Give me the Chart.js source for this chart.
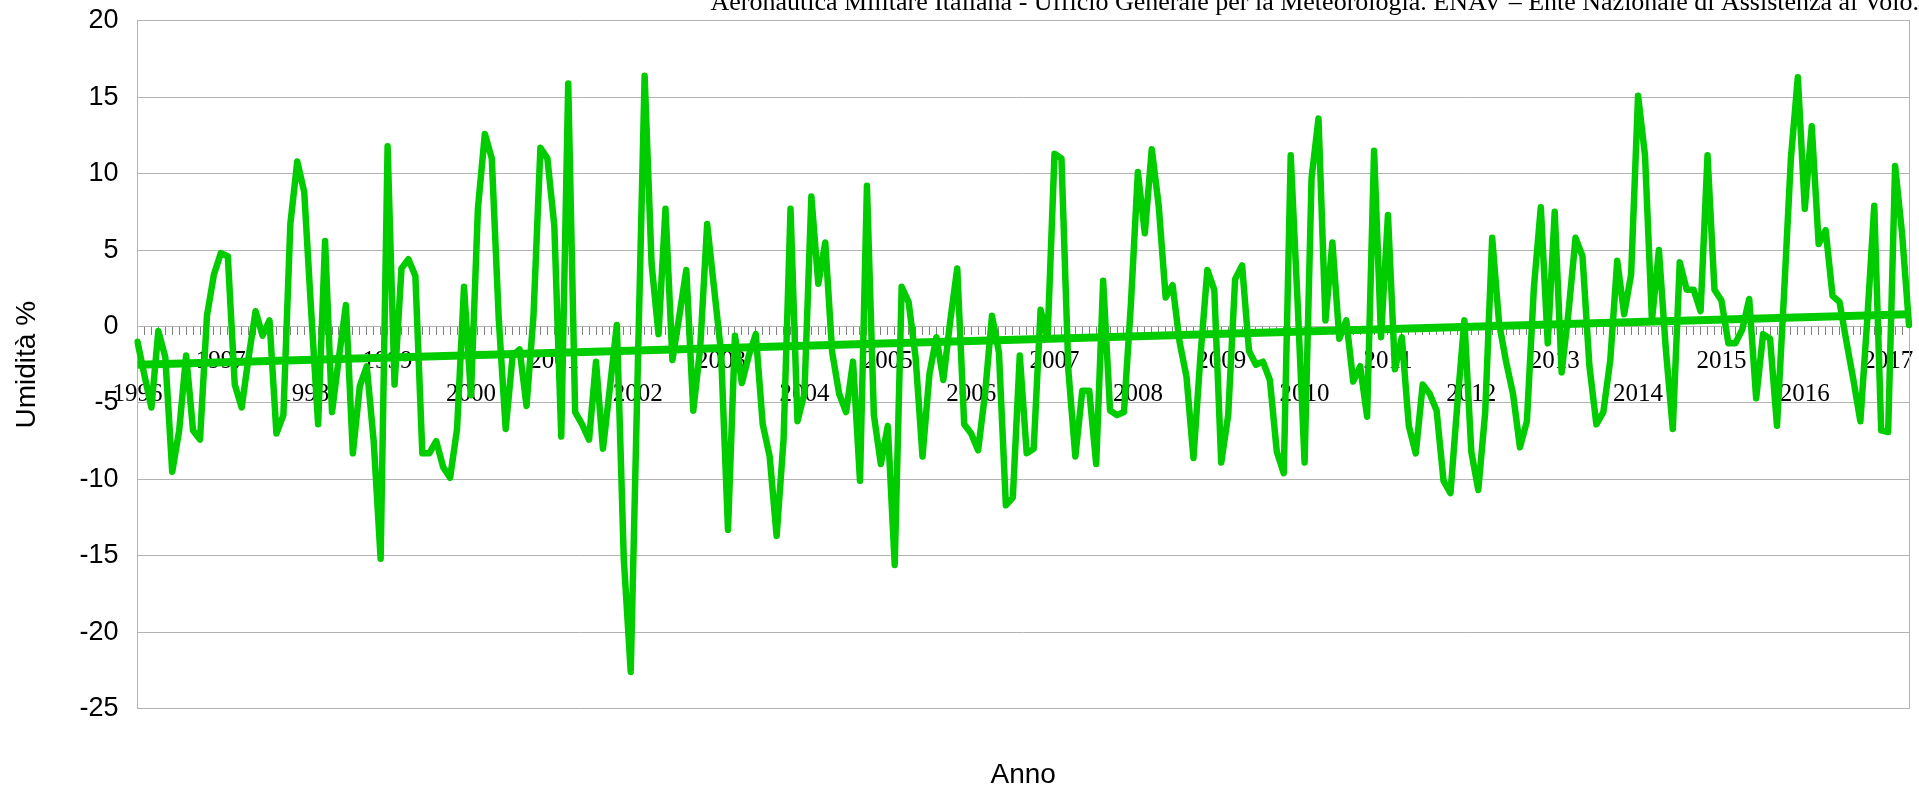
<!DOCTYPE html>
<html>
<head>
<meta charset="utf-8">
<title>Umidità %</title>
<script src="https://cdn.jsdelivr.net/npm/chart.js@4"></script>
<style>
  html, body { margin: 0; padding: 0; background: #fff; }
  canvas { display: block; }
</style>
</head>
<body>
<canvas id="myChart" width="1919" height="787"></canvas>
<script>
// tick labels (one per January)
var yearLabels = ["1996", "1997", "1998", "1999", "2000", "2001", "2002", "2003", "2004", "2005", "2006",
  "2007", "2008", "2009", "2010", "2011", "2012", "2013", "2014", "2015", "2016", "2017"];

// monthly anomaly, Jan 1996 .. Apr 2017
var humidity = [
  -1.0, -3.2, -5.3, -0.3, -2.0, -9.5, -6.8, -1.9, -6.8, -7.4, 0.7, 3.4,      // 1996
  4.8, 4.6, -3.8, -5.3, -2.0, 1.0, -0.6, 0.4, -7.0, -5.8, 6.7, 10.8,         // 1997
  8.8, 1.0, -6.4, 5.6, -5.6, -2.0, 1.4, -8.3, -3.9, -2.6, -7.5, -15.2,       // 1998
  11.8, -3.8, 3.8, 4.4, 3.3, -8.3, -8.3, -7.5, -9.2, -9.9, -6.7, 2.6,        // 1999
  -4.5, 7.7, 12.6, 11.0, 0.5, -6.7, -1.9, -1.5, -5.2, 0.7, 11.7, 11.0,       // 2000
  6.6, -7.2, 15.9, -5.6, -6.4, -7.4, -2.3, -8.0, -4.0, 0.1, -15.2, -22.6,    // 2001
  -3.0, 16.4, 4.1, -0.5, 7.7, -2.2, 0.7, 3.7, -5.5, -1.4, 6.7, 2.5,          // 2002
  -1.7, -13.3, -0.6, -3.7, -1.9, -0.5, -6.4, -8.5, -13.7, -7.4, 7.7, -6.2,   // 2003
  -4.4, 8.5, 2.8, 5.5, -1.7, -4.4, -5.6, -2.3, -10.1, 9.2, -5.8, -9.0,       // 2004
  -6.5, -15.6, 2.6, 1.6, -2.0, -8.5, -3.1, -0.7, -3.5, 0.4, 3.8, -6.4,       // 2005
  -7.0, -8.1, -4.4, 0.7, -1.7, -11.7, -11.2, -1.9, -8.3, -8.0, 1.1, -0.8,    // 2006
  11.3, 11.0, -2.9, -8.5, -4.2, -4.2, -9.0, 3.0, -5.5, -5.8, -5.6, 1.5,      // 2007
  10.1, 6.1, 11.6, 7.9, 1.9, 2.7, -1.0, -3.3, -8.6, -2.0, 3.7, 2.4,          // 2008
  -8.9, -5.8, 3.1, 4.0, -1.6, -2.5, -2.3, -3.5, -8.2, -9.6, 11.2, 1.5,       // 2009
  -8.9, 9.7, 13.6, 0.4, 5.5, -0.8, 0.4, -3.6, -2.6, -5.9, 11.5, -0.7,        // 2010
  7.3, -2.8, -0.7, -6.5, -8.3, -3.8, -4.4, -5.5, -10.1, -10.9, -5.0, 0.4,    // 2011
  -8.2, -10.7, -5.6, 5.8, 0.2, -2.3, -4.4, -7.9, -6.2, 2.5, 7.8, -1.1,       // 2012
  7.5, -3.0, 1.0, 5.8, 4.6, -2.6, -6.4, -5.6, -2.2, 4.3, 0.8, 3.4,           // 2013
  15.1, 11.2, 0.4, 5.0, -1.5, -6.7, 4.2, 2.4, 2.4, 1.0, 11.2, 2.4,           // 2014
  1.7, -1.1, -1.1, -0.2, 1.8, -4.7, -0.5, -0.8, -6.5, 2.0, 11.0, 16.3,       // 2015
  7.7, 13.1, 5.4, 6.3, 2.0, 1.6, -1.0, -3.5, -6.2, 0.5, 7.9, -6.8,           // 2016
  -6.9, 10.5, 6.1, 0.1                                                        // 2017
];

// linear trend, value at first and last month
var trendValues = [-2.5, 0.8];

var sourceText = "Aeronautica Militare Italiana - Ufficio Generale per la Meteorologia. ENAV – Ente Nazionale di Assistenza al Volo.";

var months = [];
for (var k = 0; k < yearLabels.length; k++) {
  for (var m = 1; m <= 12; m++) {
    if (months.length < humidity.length) months.push(yearLabels[k] + "-" + (m < 10 ? "0" + m : m));
  }
}

var green = "#00cc00";
var gridGray = "#b3b3b3";

// source line at the top right, partly cut by the top edge like in the original
var sourceTitle = {
  id: "sourceTitle",
  afterDraw: function (chart) {
    var c = chart.ctx;
    c.save();
    c.font = '26px "Liberation Serif"';
    c.fillStyle = "#000";
    c.textAlign = "right";
    c.textBaseline = "alphabetic";
    c.fillText(sourceText, chart.width, 10);
    c.restore();
  },
};

var ctx = document.getElementById("myChart").getContext("2d");
var myChart = new Chart(ctx, {
  type: "line",
  data: {
    labels: months,
    datasets: [
      {
        label: "Umidità %",
        data: humidity,
        borderColor: green,
        borderWidth: 6.5,
        pointRadius: 0,
        tension: 0,
        borderJoinStyle: "round",
        borderCapStyle: "round",
      },
      {
        label: "trend",
        data: [
          { x: months[0], y: trendValues[0] },
          { x: months[months.length - 1], y: trendValues[1] },
        ],
        borderColor: green,
        borderWidth: 8,
        pointRadius: 0,
        tension: 0,
      },
    ],
  },
  plugins: [sourceTitle],
  options: {
    responsive: false,
    animation: false,
    layout: { padding: { top: 20.8 } },
    plugins: {
      legend: { display: false },
      tooltip: { enabled: false },
      title: { display: false },
    },
    scales: {
      x: {
        type: "category",
        position: { y: 0 },
        grid: {
          drawOnChartArea: false,
          drawTicks: true,
          tickLength: 8,
          color: "#808080",
        },
        border: { display: true, color: gridGray },
        ticks: {
          autoSkip: false,
          maxRotation: 0,
          minRotation: 0,
          padding: 10,
          color: "#000",
          font: { family: "Liberation Serif", size: 25, lineHeight: 1.32 },
          callback: function (value, index) {
            if (index % 12 !== 0) return "";
            var k = index / 12;
            return k % 2 === 0 ? ["", yearLabels[k]] : yearLabels[k];
          },
        },
      },
      x2: {
        type: "category",
        position: "bottom",
        grid: { display: false },
        border: { display: false },
        ticks: { display: false },
        title: {
          display: true,
          text: "Anno",
          color: "#000",
          font: { family: "Liberation Sans", size: 28, lineHeight: 1 },
          padding: { top: 0, bottom: -2 },
        },
        afterFit: function (scale) { scale.height = 78.4; },
      },
      y: {
        min: -25,
        max: 20,
        grid: { color: gridGray, drawTicks: false },
        border: { display: true, color: gridGray },
        ticks: {
          stepSize: 5,
          padding: 19,
          color: "#000",
          font: { family: "Liberation Sans", size: 27 },
        },
        title: {
          display: true,
          text: "Umidità %",
          color: "#000",
          font: { family: "Liberation Sans", size: 28, lineHeight: 1.2 },
          padding: { top: 10, bottom: 0 },
        },
        afterFit: function (scale) {
          scale.width = 137.5;
          // the labels fit inside the outer margins, no extra room needed
          scale.paddingTop = 0;
          scale.paddingBottom = 0;
        },
      },
      y2: {
        type: "linear",
        position: "right",
        grid: { display: false },
        border: { display: true, color: gridGray },
        ticks: { display: false },
        afterFit: function (scale) {
          scale.width = 6;
          scale.paddingTop = 0;
          scale.paddingBottom = 0;
        },
      },
    },
  },
});
</script>
</body>
</html>
